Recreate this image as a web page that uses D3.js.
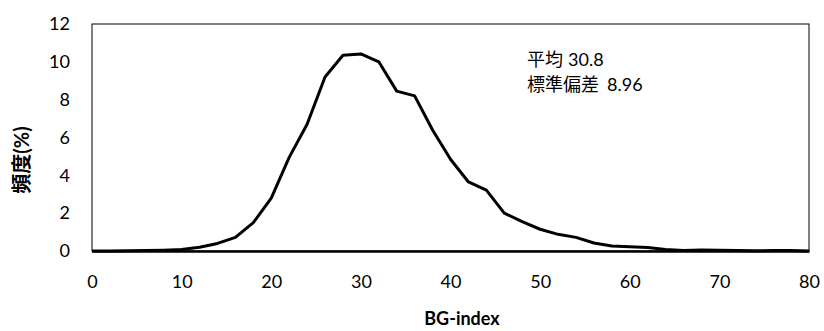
<!DOCTYPE html>
<html>
<head>
<meta charset="utf-8">
<script src="https://cdn.jsdelivr.net/npm/d3@7"></script>
<style>
  html, body { margin: 0; padding: 0; background: #fff; }
  svg { display: block; }
  text { font-family: "Lato", "Noto Sans CJK JP", sans-serif; fill: #000; }
</style>
</head>
<body>
<svg id="chart" width="824" height="331"></svg>
<script>
// BG-index bins (step 2) and frequency in percent
const bgIndex = [0,2,4,6,8,10,12,14,16,18,20,22,24,26,28,30,32,34,36,38,40,
                 42,44,46,48,50,52,54,56,58,60,62,64,66,68,70,72,74,76,78,80];
const frequency = [0,0,0.01,0.02,0.04,0.08,0.2,0.4,0.72,1.5,2.8,4.95,6.7,9.2,10.35,10.42,10.0,8.45,8.2,6.4,4.85,
                   3.65,3.22,2.0,1.55,1.15,0.88,0.72,0.42,0.26,0.23,0.18,0.08,0.02,0.05,0.04,0.02,0.01,0.03,0.02,0];
const xTicks = [0,10,20,30,40,50,60,70,80];
const yTicks = [0,2,4,6,8,10,12];
const statLabels = ["平均", "標準偏差"];
const statValues = ["30.8", "8.96"];

const svg = d3.select("#chart");
const plotL = 92, plotR = 809, plotT = 24, plotB = 251;

const x = d3.scaleLinear().domain([0, 80]).range([plotL, plotR]);
const y = d3.scaleLinear().domain([0, 12]).range([plotB, plotT]);

// plot frame
svg.append("rect")
  .attr("x", plotL).attr("y", plotT)
  .attr("width", plotR - plotL).attr("height", plotB - plotT)
  .attr("fill", "none").attr("stroke", "#000").attr("stroke-width", 1);

// x axis
const xAxis = svg.append("g")
  .attr("transform", `translate(0,${plotB})`)
  .call(d3.axisBottom(x).tickValues(xTicks).tickSize(0).tickPadding(24));
xAxis.select(".domain").attr("stroke", "#000").attr("stroke-width", 2.5);
xAxis.selectAll("text").attr("font-size", 18).attr("font-family", "Lato, sans-serif");

// y axis
const yAxis = svg.append("g")
  .attr("transform", `translate(${plotL},0)`)
  .call(d3.axisLeft(y).tickValues(yTicks).tickSize(0).tickPadding(22));
yAxis.select(".domain").remove();
yAxis.selectAll("text").attr("font-size", 18).attr("font-family", "Lato, sans-serif");

// frequency curve
const line = d3.line().x((d, i) => x(bgIndex[i])).y(d => y(d));
svg.append("path")
  .datum(frequency)
  .attr("d", line)
  .attr("fill", "none")
  .attr("stroke", "#000")
  .attr("stroke-width", 3)
  .attr("stroke-linejoin", "round");

// axis titles
svg.append("text")
  .attr("x", 462).attr("y", 325)
  .attr("text-anchor", "middle")
  .attr("font-size", 18).attr("font-weight", "bold")
  .text("BG-index");

svg.append("text")
  .attr("transform", "translate(29,160) rotate(-90)")
  .attr("text-anchor", "middle")
  .attr("font-size", 20).attr("font-weight", "bold")
  .text("頻度(%)");

// summary statistics
const stats = svg.append("g").attr("transform", "translate(527,66)");
statLabels.forEach((label, i) => {
  const t = stats.append("text").attr("y", i * 25);
  t.append("tspan").attr("font-size", 18).attr("font-family", "Noto Sans CJK JP, sans-serif").text(label);
  t.append("tspan").attr("dx", i === 0 ? 5 : 8)
    .attr("font-size", 18).attr("font-family", "Lato, sans-serif").text(statValues[i]);
});
</script>
</body>
</html>
